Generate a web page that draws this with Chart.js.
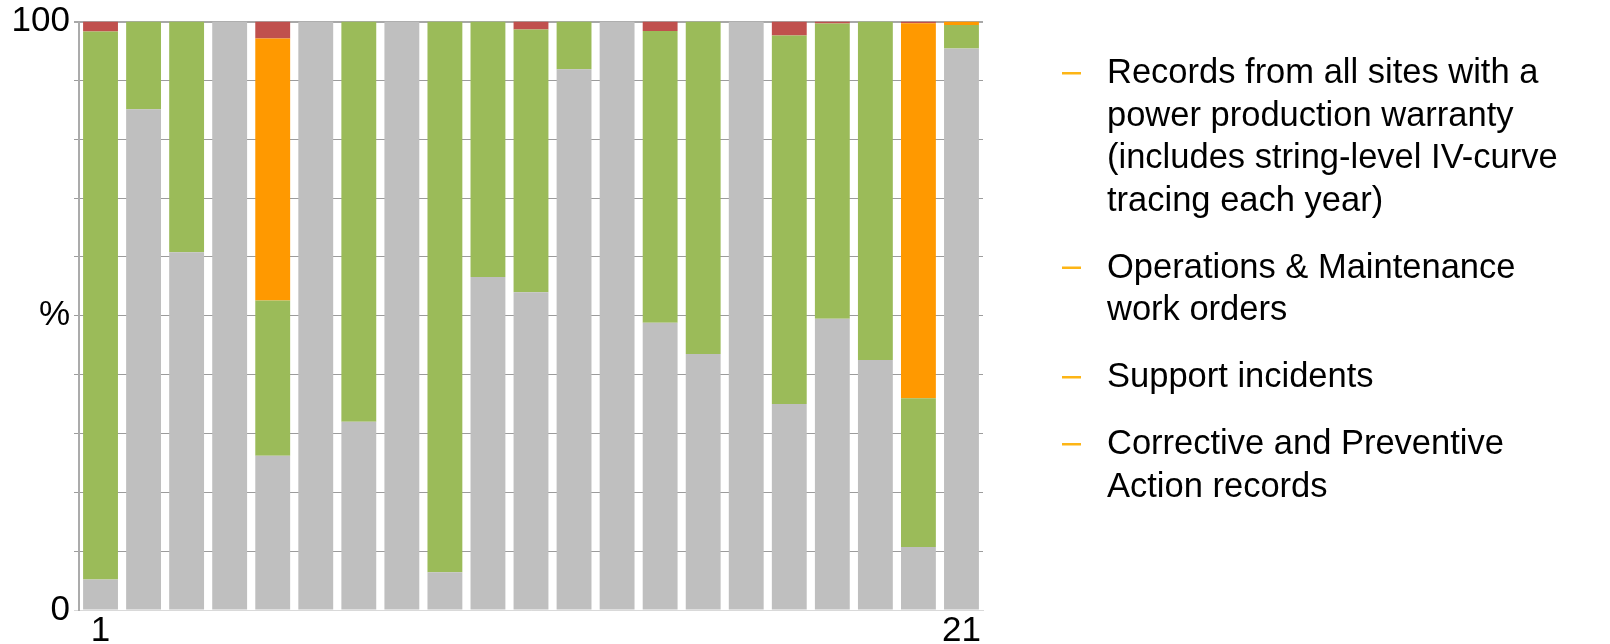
<!DOCTYPE html>
<html>
<head>
<meta charset="utf-8">
<script src="https://cdn.jsdelivr.net/npm/chart.js@4/dist/chart.umd.min.js"></script>
<style>
  html, body { margin: 0; padding: 0; background: #ffffff; }
  canvas { display: block; }
</style>
</head>
<body>
<canvas id="chart" width="1610" height="644"></canvas>
<script>
// Categories (sites 1..21); only the first and last are labelled on the axis
const categories = ['1','2','3','4','5','6','7','8','9','10','11','12','13','14','15','16','17','18','19','20','21'];
const xTickShown = ['1', '21'];

// Y axis: ticks every 10, with text only at these values
const yTickValues = [0, 50, 100];
const yTickText = ['0', '%', '100'];

// Series names (one line per entry)
const seriesNames = [
  ['Records from all sites with a', 'power production warranty', '(includes string-level IV-curve', 'tracing each year)'],
  ['Operations & Maintenance', 'work orders'],
  ['Support incidents'],
  ['Corrective and Preventive', 'Action records']
];

// Share of records per site, %
const warrantyRecords = [5.2, 85.1, 60.8, 100, 26.2, 100, 32.0, 100, 6.4, 56.6, 54.0, 91.9, 100, 48.8, 43.5, 100, 35.0, 49.5, 42.5, 10.7, 95.4];
const workOrders      = [93.1, 14.9, 39.2, 0, 26.4, 0, 68.0, 0, 93.6, 43.4, 44.65, 8.1, 0, 49.6, 56.5, 0, 62.6, 50.15, 57.5, 25.3, 4.0];
const supportIncidents = [0, 0, 0, 0, 44.5, 0, 0, 0, 0, 0, 0, 0, 0, 0, 0, 0, 0, 0, 0, 63.7, 0.6];
const capaRecords     = [1.7, 0, 0, 0, 2.9, 0, 0, 0, 0, 0, 1.35, 0, 0, 1.6, 0, 0, 2.4, 0.35, 0, 0.3, 0];

const seriesValues = [warrantyRecords, workOrders, supportIncidents, capaRecords];
const seriesColors = ['#bfbfbf', '#9bbb59', '#ff9900', '#c0504d'];
const legendDash = '#fdb515';
const FONT = '"Liberation Sans", Arial, Helvetica, sans-serif';

// Legend drawn to the right of the plot, multi-line entries with short dashes
const sideLegend = {
  id: 'sideLegend',
  afterDraw(chart) {
    const ctx = chart.ctx;
    ctx.save();
    ctx.font = '34.5px ' + FONT;
    ctx.textBaseline = 'alphabetic';
    ctx.textAlign = 'left';
    const dashX = 1062, textX = 1107, lineH = 42.5, itemGap = 24.5;
    let baseline = 83;
    chart.data.datasets.forEach((ds, i) => {
      const lines = seriesNames[i];
      ctx.fillStyle = legendDash;
      ctx.fillRect(dashX, baseline - 11, 19, 2.5);
      ctx.fillStyle = '#000000';
      lines.forEach((ln, j) => {
        ctx.fillText(ln, textX, baseline + j * lineH);
      });
      baseline += lines.length * lineH + itemGap;
    });
    ctx.restore();
  }
};

new Chart(document.getElementById('chart'), {
  type: 'bar',
  data: {
    labels: categories,
    datasets: seriesValues.map((vals, i) => ({
      label: seriesNames[i].join(' '),
      data: vals,
      backgroundColor: seriesColors[i],
      borderWidth: 0,
      barPercentage: 0.81,
      categoryPercentage: 1.0
    }))
  },
  options: {
    responsive: false,
    animation: false,
    devicePixelRatio: 1,
    layout: { padding: { top: 19, right: 627, left: 0, bottom: 0 } },
    plugins: {
      legend: { display: false },
      tooltip: { enabled: false },
      title: { display: false }
    },
    scales: {
      x: {
        stacked: true,
        grid: { display: false, drawTicks: false },
        border: { display: true, color: '#d9d9d9', width: 1 },
        ticks: {
          autoSkip: false,
          maxRotation: 0,
          padding: 4,
          color: '#000000',
          font: { family: FONT, size: 35, lineHeight: 1 },
          callback: function (value) {
            const lbl = categories[value];
            return xTickShown.includes(lbl) ? lbl : '';
          }
        },
        afterFit: (s) => { s.height = 34; }
      },
      y: {
        stacked: true,
        min: 0,
        max: 100,
        grid: {
          drawTicks: true,
          tickLength: 5,
          color: (c) => c.tick && c.tick.value === 0 ? '#d9d9d9' : (c.tick && c.tick.value === 100 ? '#a8a8a8' : '#9c9c9c'),
          lineWidth: (c) => c.tick && c.tick.value === 100 ? 2 : 1
        },
        border: { display: true, color: '#ababab', width: 2 },
        ticks: {
          stepSize: 10,
          padding: 4,
          color: '#000000',
          font: { family: FONT, size: 35, lineHeight: 1 },
          callback: function (value) {
            const k = yTickValues.indexOf(value);
            return k >= 0 ? yTickText[k] : '';
          }
        },
        afterFit: (s) => { s.width = 79; }
      }
    }
  },
  plugins: [sideLegend]
});
</script>
</body>
</html>
